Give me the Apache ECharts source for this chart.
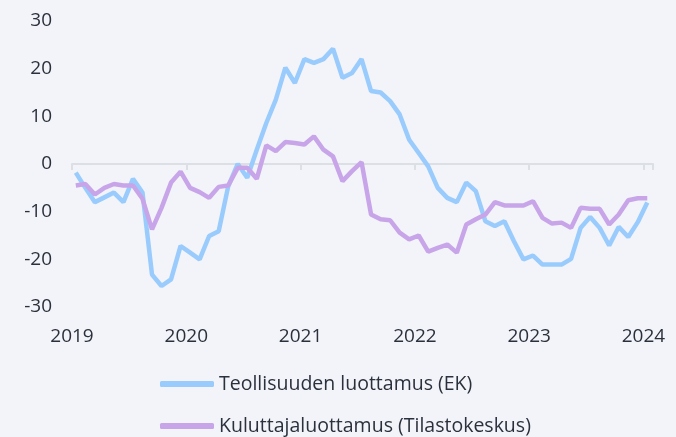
<!DOCTYPE html>
<html><head><meta charset="utf-8">
<script src="https://cdn.jsdelivr.net/npm/echarts@6/dist/echarts.min.js"></script>
<style>html,body{margin:0;padding:0;background:#f3f4f9;}#c{width:676px;height:437px;}</style>
</head><body><div id="c"></div>
<script>
const yearTicks = ['2019','2020','2021','2022','2023','2024'];
const seriesNames = ['Teollisuuden luottamus (EK)', 'Kuluttajaluottamus (Tilastokeskus)'];
// Monthly values, Jan 2019 .. Jan 2024
const industry = [-1.8,-5.0,-8.0,-7.0,-6.0,-8.0,-3.1,-6.0,-23.2,-25.6,-24.2,-17.2,
  -18.6,-20.0,-15.1,-14.1,-4.7,0.0,-2.9,3.0,8.6,13.5,20.2,17.0,
  22.0,21.2,22.0,24.2,18.1,19.1,22.0,15.3,15.0,13.2,10.4,5.1,
  2.3,-0.5,-5.0,-7.1,-8.0,-3.9,-5.7,-12.0,-13.0,-12.0,-16.2,-20.0,
  -19.2,-21.1,-21.1,-21.1,-19.9,-13.4,-11.1,-13.4,-17.1,-13.2,-15.3,-12.2,
  -8.1];
const consumer = [-4.5,-4.2,-6.4,-5.0,-4.2,-4.5,-4.5,-7.3,-13.7,-9.2,-3.9,-1.6,
  -5.0,-5.9,-7.1,-4.8,-4.5,-0.8,-0.8,-3.1,3.9,2.7,4.6,4.4,
  4.1,5.8,3.0,1.6,-3.6,-1.5,0.4,-10.6,-11.6,-11.8,-14.4,-15.8,
  -15.0,-18.4,-17.6,-16.9,-18.6,-12.7,-11.6,-10.6,-8.0,-8.7,-8.7,-8.7,
  -7.8,-11.3,-12.5,-12.3,-13.4,-9.2,-9.4,-9.4,-12.7,-10.6,-7.6,-7.2,
  -7.2];

const toPairs = arr => arr.map((v, i) => [i + 0.4, v]);
const font = '"Open Sans", sans-serif';
const textColor = '#2b313c';

const legendBase = {
  orient: 'vertical', left: 160, padding: 0,
  itemWidth: 54, itemHeight: 6, icon: 'roundRect',
  textStyle: {fontFamily: font, fontSize: 19.5, lineHeight: 22, color: textColor}
};

const chart = echarts.init(document.getElementById('c'), null, {renderer: 'canvas'});
chart.setOption({
  backgroundColor: '#f3f4f9',
  animation: false,
  grid: {left: 72, right: 23, top: 21, bottom: 130, containLabel: false},
  legend: [
    Object.assign({}, legendBase, {top: 373, data: [seriesNames[0]]}),
    Object.assign({}, legendBase, {top: 415, data: [seriesNames[1]]})
  ],
  xAxis: [{
    type: 'value', min: 0, max: 61, interval: 12, position: 'bottom',
    axisLine: {show: false, onZero: false}, axisTick: {show: false}, splitLine: {show: false},
    axisLabel: {
      margin: 20, fontFamily: font, fontSize: 19, color: textColor,
      formatter: v => (v % 12 === 0 && v / 12 < yearTicks.length) ? yearTicks[v / 12] : ''
    }
  }, {
    type: 'value', min: 0, max: 61, interval: 12, position: 'top',
    axisLine: {show: true, onZero: true, lineStyle: {color: '#dcdfe4', width: 2}},
    axisTick: {show: true, inside: true, length: 6, lineStyle: {color: '#dcdfe4', width: 2}},
    axisLabel: {show: false}, splitLine: {show: false}
  }],
  yAxis: {
    type: 'value', min: -30, max: 30, interval: 10,
    axisLine: {show: false}, axisTick: {show: false}, splitLine: {show: false},
    axisLabel: {margin: 20, fontFamily: font, fontSize: 19, color: textColor}
  },
  series: [{
    name: seriesNames[0], type: 'line', xAxisIndex: 0, data: toPairs(industry),
    showSymbol: false, symbol: 'none', lineStyle: {color: '#99cbfd', width: 4.5}, itemStyle: {color: '#99cbfd'},
    z: 2
  }, {
    name: seriesNames[1], type: 'line', xAxisIndex: 0, data: toPairs(consumer),
    showSymbol: false, symbol: 'none', lineStyle: {color: '#c8a5e8', width: 4.5}, itemStyle: {color: '#c8a5e8'},
    z: 3
  }]
});
</script>
</body></html>
